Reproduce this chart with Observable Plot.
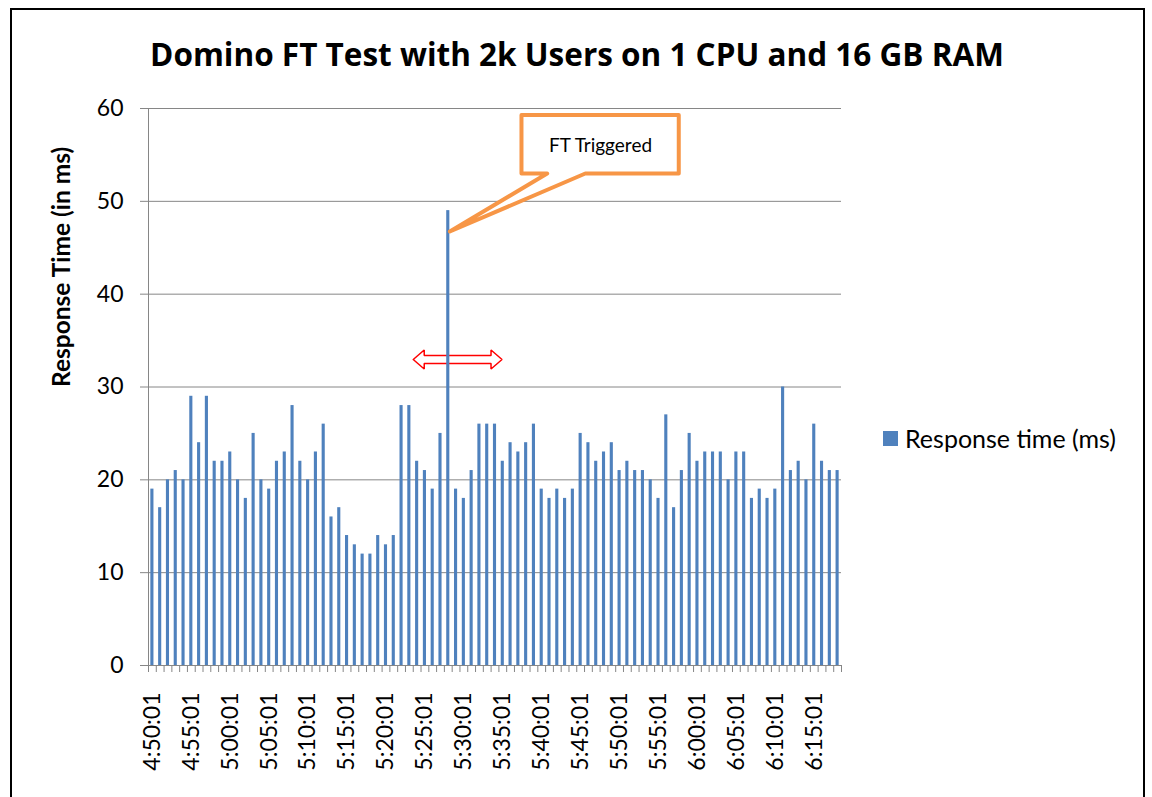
<!DOCTYPE html>
<html><head><meta charset="utf-8">
<script src="https://cdn.jsdelivr.net/npm/d3@7"></script>
<script src="https://cdn.jsdelivr.net/npm/@observablehq/plot@0.6"></script>
<style>
body{margin:0;background:#fff;font-family:Lato,sans-serif;}
#wrap{position:relative;width:1152px;height:797px;overflow:hidden;background:#fff;}
#frame{position:absolute;left:10px;top:8px;width:1131px;height:900px;border:2px solid #000;}
#title{position:absolute;left:0;top:38px;width:1154px;text-align:center;font-family:"Open Sans",sans-serif;font-weight:bold;font-size:31.5px;line-height:31.5px;color:#000;white-space:nowrap;}
#chart{position:absolute;left:0;top:90px;}
#legsq{position:absolute;left:883px;top:431px;width:15px;height:15px;background:#4f81bd;}
#legtx{position:absolute;left:905px;top:426px;font-size:25px;line-height:25px;color:#000;white-space:nowrap;}
</style></head>
<body>
<div id="wrap">
  <div id="frame"></div>
  <div id="title">Domino FT Test with 2k Users on 1 CPU and 16 GB RAM</div>
  <div id="chart"></div>
  <div id="legsq"></div>
  <div id="legtx">Response time (ms)</div>
</div>
<script>
const times = [
 "4:50:01","4:51:01","4:52:01","4:53:01","4:54:01","4:55:01","4:56:01","4:57:01","4:58:01","4:59:01",
 "5:00:01","5:01:01","5:02:01","5:03:01","5:04:01","5:05:01","5:06:01","5:07:01","5:08:01","5:09:01",
 "5:10:01","5:11:01","5:12:01","5:13:01","5:14:01","5:15:01","5:16:01","5:17:01","5:18:01","5:19:01",
 "5:20:01","5:21:01","5:22:01","5:23:01","5:24:01","5:25:01","5:26:01","5:27:01","5:28:01","5:29:01",
 "5:30:01","5:31:01","5:32:01","5:33:01","5:34:01","5:35:01","5:36:01","5:37:01","5:38:01","5:39:01",
 "5:40:01","5:41:01","5:42:01","5:43:01","5:44:01","5:45:01","5:46:01","5:47:01","5:48:01","5:49:01",
 "5:50:01","5:51:01","5:52:01","5:53:01","5:54:01","5:55:01","5:56:01","5:57:01","5:58:01","5:59:01",
 "6:00:01","6:01:01","6:02:01","6:03:01","6:04:01","6:05:01","6:06:01","6:07:01","6:08:01","6:09:01",
 "6:10:01","6:11:01","6:12:01","6:13:01","6:14:01","6:15:01","6:16:01","6:17:01","6:18:01"
];
const responseMs = [
 19,17,20,21,20,29,24,29,22,22,23,20,18,25,20,19,22,23,28,22,20,23,26,16,17,
 14,13,12,12,14,13,14,28,28,22,21,19,25,49,19,18,21,26,26,26,22,24,23,24,
 26,19,18,19,18,19,25,24,22,23,24,21,22,21,21,20,18,27,17,21,25,22,23,23,23,
 20,23,23,18,19,18,19,30,21,22,20,26,22,21,21
];
const tickLabels = ["4:50:01","4:55:01","5:00:01","5:05:01","5:10:01","5:15:01","5:20:01","5:25:01","5:30:01",
 "5:35:01","5:40:01","5:45:01","5:50:01","5:55:01","6:00:01","6:05:01","6:10:01","6:15:01"];
const yTicks = [0,10,20,30,40,50,60];
const yLabel = "Response Time (in ms)";
// annotation anchors in data units (category index, ms)
const calloutBox = {left:47.4, right:67.6, top:59.3, bottom:53.0, tailA:50.7, tailB:55.6};
const calloutTip = {x:38.2, y:46.75};
const calloutText = {x:57.55, y:56.0, text:"FT Triggered"};
const arrowSpan = {x1:33.5, x2:44.9, y:32.96, head:1.41, halfHead:1.02, halfShaft:0.43};

const data = times.map((t,i)=>({i, t, v: responseMs[i]}));
const labelIdx = tickLabels.map(l => times.indexOf(l));
const boundaries = d3.range(times.length + 1).map(k => k - 0.5);

const B = calloutBox;
const callout = [
  {x:B.left,y:B.top},{x:B.right,y:B.top},{x:B.right,y:B.bottom},{x:B.tailB,y:B.bottom},
  {x:calloutTip.x,y:calloutTip.y},{x:B.tailA,y:B.bottom},{x:B.left,y:B.bottom},{x:B.left,y:B.top}
];
const A = arrowSpan;
const arrow = [
  {x:A.x1,y:A.y},{x:A.x1+A.head,y:A.y+A.halfHead},{x:A.x1+A.head,y:A.y+A.halfShaft},
  {x:A.x2-A.head,y:A.y+A.halfShaft},{x:A.x2-A.head,y:A.y+A.halfHead},{x:A.x2,y:A.y},
  {x:A.x2-A.head,y:A.y-A.halfHead},{x:A.x2-A.head,y:A.y-A.halfShaft},{x:A.x1+A.head,y:A.y-A.halfShaft},
  {x:A.x1+A.head,y:A.y-A.halfHead},{x:A.x1,y:A.y}
];

const chart = Plot.plot({
  width:1152, height:707,
  marginTop:18, marginBottom:132, marginLeft:148, marginRight:311,
  style:{fontFamily:"Lato, sans-serif", color:"#000", background:"transparent", overflow:"visible"},
  x:{domain:[-0.5, times.length - 0.5]},
  y:{domain:[0,60]},
  marks:[
    Plot.gridY(yTicks, {stroke:"#868686", strokeOpacity:1, strokeWidth:1}),
    Plot.axisY({ticks:yTicks, tickSize:8, tickPadding:17, fontSize:23, stroke:"#868686", fill:"#000", label:null}),
    Plot.axisX({ticks:boundaries, tickSize:7, tickFormat:()=>"", stroke:"#868686", label:null}),
    Plot.axisX({ticks:labelIdx, tickSize:0, tickPadding:27, tickRotate:-90, fontSize:23, fill:"#000",
                tickFormat:i => times[i], label:null}),
    Plot.line(arrow, {x:"x", y:"y", stroke:"#ff0000", strokeWidth:1.5, fill:"white", strokeLinejoin:"miter"}),
    Plot.rectY(data, {x1:d=>d.i-0.2, x2:d=>d.i+0.2, y:"v", fill:"#4f81bd"}),
    Plot.ruleX([-0.5], {stroke:"#868686"}),
    Plot.ruleY([0], {stroke:"#868686"}),
    Plot.line(callout, {x:"x", y:"y", stroke:"#f79646", strokeWidth:4, fill:"white", strokeLinejoin:"round"}),
    Plot.text([calloutText], {x:"x", y:"y", text:"text", fontSize:19, fill:"#000"}),
    Plot.text([yLabel], {frameAnchor:"left", rotate:-90, dx:-86, fontSize:24.5, fontWeight:"bold", fill:"#000"})
  ]
});
document.getElementById("chart").appendChild(chart);
</script>
</body></html>
